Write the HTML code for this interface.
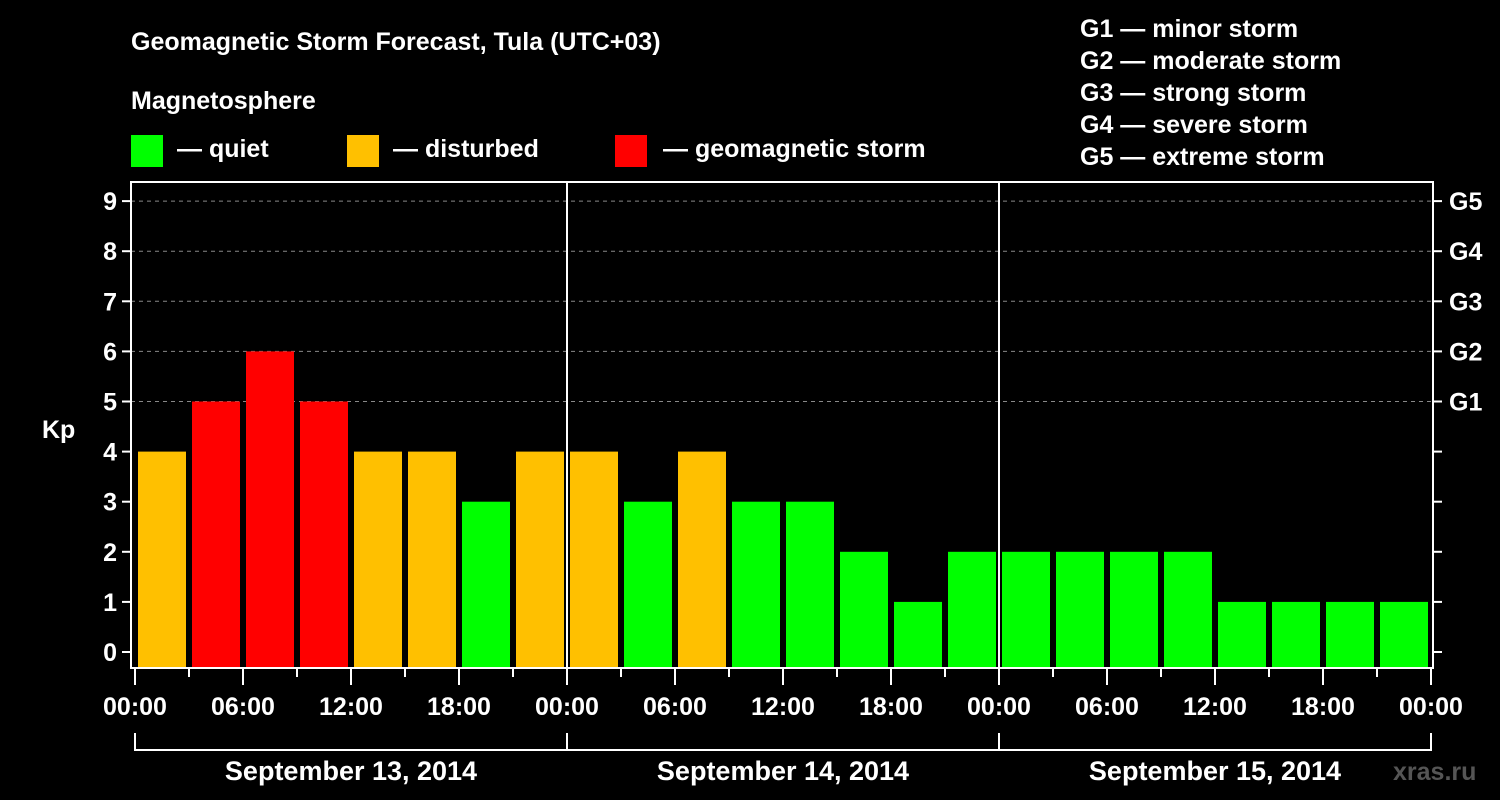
<!DOCTYPE html>
<html><head><meta charset="utf-8"><style>
body{margin:0;background:#000;width:1500px;height:800px;overflow:hidden}
svg{display:block;font-family:"Liberation Sans",sans-serif;font-weight:bold}
</style></head><body>
<svg id="c" width="1500" height="800">
<text x="131" y="50" fill="#fff" font-size="25">Geomagnetic Storm Forecast, Tula (UTC+03)</text>
<text x="131" y="109" fill="#fff" font-size="25">Magnetosphere</text>
<rect x="131" y="135" width="32" height="32" fill="#00ff00"/>
<text x="177" y="157" fill="#fff" font-size="25">— quiet</text>
<rect x="347" y="135" width="32" height="32" fill="#ffc000"/>
<text x="393" y="157" fill="#fff" font-size="25">— disturbed</text>
<rect x="615" y="135" width="32" height="32" fill="#ff0000"/>
<text x="663" y="157" fill="#fff" font-size="25">— geomagnetic storm</text>
<g fill="#fff" font-size="25">
<text x="1080" y="37">G1 — minor storm</text>
<text x="1080" y="69">G2 — moderate storm</text>
<text x="1080" y="101">G3 — strong storm</text>
<text x="1080" y="133">G4 — severe storm</text>
<text x="1080" y="165">G5 — extreme storm</text>
</g>
<text x="42" y="438" fill="#fff" font-size="25">Kp</text>
<text x="1393" y="780" fill="#555" font-size="25">xras.ru</text>
<g id="plot"></g>
</svg>
<script>
const kpValues=[4,5,6,5,4,4,3,4, 4,3,4,3,3,2,1,2, 2,2,2,2,1,1,1,1];
const yTicks=[0,1,2,3,4,5,6,7,8,9];
const gLabels=["G1","G2","G3","G4","G5"];
const xTickLabels=["00:00","06:00","12:00","18:00","00:00","06:00","12:00","18:00","00:00","06:00","12:00","18:00","00:00"];
const dayLabels=["September 13, 2014","September 14, 2014","September 15, 2014"];
const NS="http://www.w3.org/2000/svg";
const g=document.getElementById('plot');
const X0=135,SLOT=54,L=131,R=1433,T=182,B=668;
const y=v=>652-50.1*v;
const x=i=>X0+i*SLOT;
function mk(t,a){const e=document.createElementNS(NS,t);for(const k in a)e.setAttribute(k,a[k]);g.appendChild(e);return e;}
yTicks.forEach(v=>{
 if(v>=5){const l=mk('line',{x1:L,x2:R,y1:y(v),y2:y(v),stroke:'#888','stroke-dasharray':'4,4','stroke-width':1});
 
 }
 mk('line',{x1:L-9,x2:L,y1:y(v),y2:y(v),stroke:'#fff','stroke-width':2});
 mk('line',{x1:R,x2:R+9,y1:y(v),y2:y(v),stroke:'#fff','stroke-width':2});
 const t=mk('text',{x:L-14,y:y(v)+9,fill:'#fff','font-size':25,'text-anchor':'end'});t.textContent=v;
 
 
});
gLabels.forEach((s,i)=>{const t=mk('text',{x:1449,y:y(5+i)+9,fill:'#fff','font-size':25});t.textContent=s;
 
 });
kpValues.forEach((v,i)=>{
 const c=v>=5?'#ff0000':v>=4?'#ffc000':'#00ff00';
 const r=mk('rect',{x:x(i)+3,y:y(v),width:48,height:B-y(v),fill:c});
 
 
});
[1,2].forEach(d=>mk('line',{x1:x(d*8),x2:x(d*8),y1:T,y2:B,stroke:'#fff','stroke-width':2}));
const f=mk('rect',{x:L,y:T,width:R-L,height:B-T,fill:'none',stroke:'#fff','stroke-width':2});


for(let i=0;i<=24;i++){mk('line',{x1:x(i),x2:x(i),y1:B,y2:B+(i%2?9:17),stroke:'#fff','stroke-width':2});}
xTickLabels.forEach((s,i)=>{const t=mk('text',{x:x(i*2),y:715,fill:'#fff','font-size':25,'text-anchor':'middle'});t.textContent=s;
 
 });
mk('path',{d:`M${x(0)} 733V750H${x(24)}V733M${x(8)} 733V750M${x(16)} 733V750`,stroke:'#fff','stroke-width':2,fill:'none'});
dayLabels.forEach((s,i)=>{const t=mk('text',{x:x(i*8+4),y:780,fill:'#fff','font-size':27,'text-anchor':'middle'});t.textContent=s;
 
 });
</script>
</body></html>
